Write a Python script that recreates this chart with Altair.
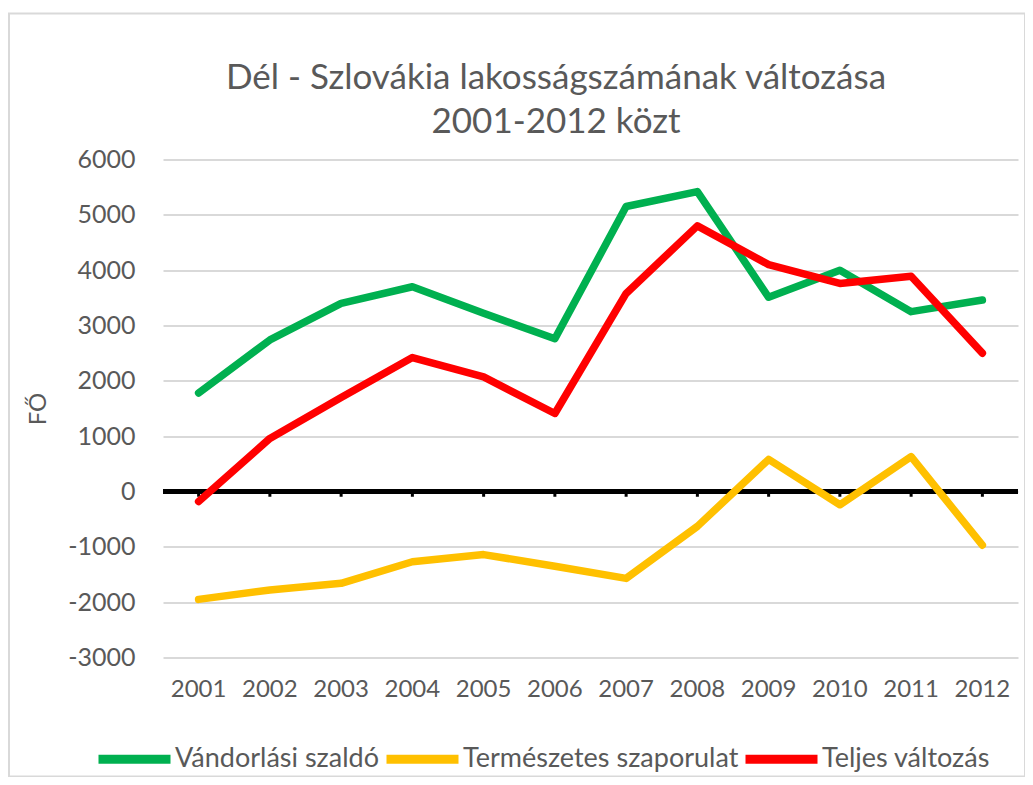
import altair as alt
import pandas as pd

title_lines = ["Dél - Szlovákia lakosságszámának változása", "2001-2012 közt"]
years = ["2001", "2002", "2003", "2004", "2005", "2006", "2007", "2008", "2009", "2010", "2011", "2012"]
series_names = ["Vándorlási szaldó", "Természetes szaporulat", "Teljes változás"]
series_colors = ["#00B050", "#FFC000", "#FF0000"]
vandorlasi = [1780, 2740, 3400, 3700, 3220, 2760, 5150, 5420, 3510, 4000, 3250, 3460]
termeszetes = [-1950, -1780, -1660, -1270, -1140, -1350, -1570, -630, 580, -240, 630, -970]
teljes = [-180, 960, 1700, 2420, 2070, 1410, 3580, 4800, 4100, 3760, 3890, 2500]
y_ticks = [-3000, -2000, -1000, 0, 1000, 2000, 3000, 4000, 5000, 6000]
zero_line = [0]

rows = []
for name, vals in zip(series_names, [vandorlasi, termeszetes, teljes]):
    for yr, v in zip(years, vals):
        rows.append({"Év": yr, "Érték": v, "Sorozat": name, "ord": series_names.index(name)})
df = pd.DataFrame(rows)

TXT = "#595959"
FONT = "Lato, Open Sans"

x_enc = alt.X("Év:O", sort=years,
              axis=alt.Axis(title=None, labelAngle=0, labelFont=FONT, labelFontSize=24,
                            labelColor=TXT, labelPadding=20, ticks=False, domain=False, grid=False))
y_axis = alt.Axis(values=y_ticks, labelExpr="datum.value + ''", title="FŐ", titleFont=FONT,
                  titleFontSize=24, titleFontWeight="normal",
                  titleColor=TXT, titlePadding=17, labelFont=FONT, labelFontSize=25, labelColor=TXT,
                  labelPadding=28, ticks=False, domain=False, grid=True, gridColor="#D9D9D9", gridWidth=2)
y_scale = alt.Scale(domain=[-3000, 6000], nice=False)

one = pd.DataFrame({"a": [0]})

frame = alt.Chart(one).mark_rect(filled=False, stroke="#D9D9D9", strokeWidth=2).encode(
    x=alt.value(-154), x2=alt.value(862), y=alt.value(-146), y2=alt.value(617)
)

title = alt.Chart(one).mark_text(font=FONT, fontSize=35, color=TXT, align="center",
                                 baseline="middle", lineHeight=44).encode(
    text=alt.value(title_lines), x=alt.value(393), y=alt.value(-81.5)
)

zero = alt.Chart(pd.DataFrame({"Érték": zero_line})).mark_rule(color="black", strokeWidth=5).encode(
    y=alt.Y("Érték:Q", scale=y_scale, axis=y_axis)
)

ticks = alt.Chart(pd.DataFrame({"Év": years})).mark_rule(color="black", strokeWidth=3).encode(
    x=x_enc, y=alt.datum(0), y2=alt.datum(-95)
)

lines = alt.Chart(df).mark_line(strokeWidth=7.5, strokeCap="round", strokeJoin="round").encode(
    x=x_enc,
    y=alt.Y("Érték:Q", scale=y_scale, axis=y_axis),
    color=alt.Color("Sorozat:N", sort=series_names,
                    scale=alt.Scale(domain=series_names, range=series_colors),
                    legend=alt.Legend(title=None, orient="none", legendX=-69, legendY=559,
                                      direction="horizontal", symbolType="stroke", symbolSize=5184,
                                      symbolStrokeWidth=9, labelFont="Lato", labelFontSize=27,
                                      labelColor=TXT, labelOffset=0, columnPadding=-12, padding=0,
                                      labelLimit=0)),
    order="ord:Q",
)

chart = alt.layer(frame, title, zero, ticks, lines).properties(
    width=855, height=498,
    autosize=alt.AutoSizeParams(type="none"),
    padding={"left": 155, "top": 151.5, "right": 7, "bottom": 119.5},
    background="white",
).configure_view(stroke=None)

chart.save("out.html", embed_options={"renderer": "svg", "actions": False})
